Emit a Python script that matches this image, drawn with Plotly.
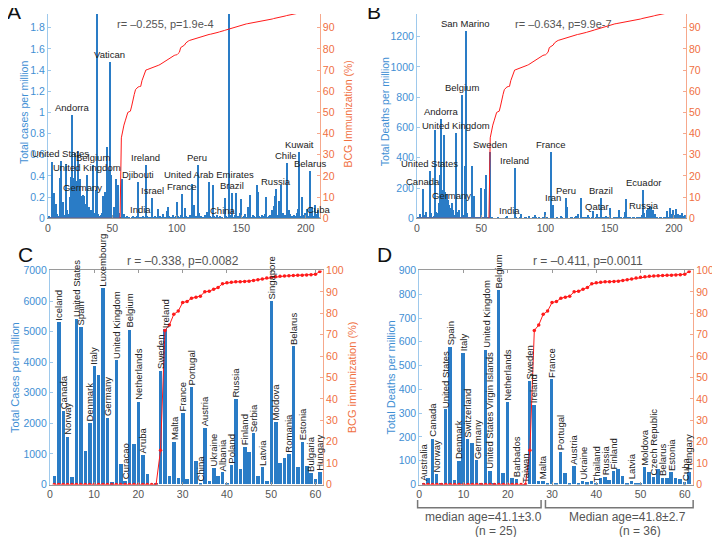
import plotly.graph_objects as go

W, H = 720, 537
FONT = "Liberation Sans"

# ---------------- Panels A / B : 210 countries sorted by BCG coverage ----------------
cases_ab = [
    0.02, 0.01, 0.53, 0.03, 0.24, 0.14, 0.04, 0.02, 0.38, 0.54,
    0.05, 0.15, 0.03, 0.51, 0.08, 0.04, 0.20, 0.39, 0.98, 0.385,
    0.62, 0.35, 0.64, 0.10, 0.37, 0.21, 0.217, 0.21, 0.14, 0.405,
    0.06, 0.11, 0.08, 0.03, 0.505, 0.05, 0.27, 2.30, 0.04, 0.02,
    0.03, 0.05, 0.21, 0.25, 0.02, 0.67, 0.46, 1.48, 0.41, 0.03,
    0.11, 0.02, 0.375, 0.31, 0.05, 0.01, 0.37, 0.02, 0.04, 0.01,
    0.02, 0.005, 0.01, 0.003, 0.01, 0.02, 0.005, 0.01, 0.02, 0.34,
    0.01, 0.01, 0.003, 0.02, 0.01, 0.506, 0.02, 0.01, 0.005, 0.01,
    0.19, 0.01, 0.02, 0.005, 0.09, 0.01, 0.02, 0.01, 0.04, 0.005,
    0.01, 0.07, 0.11, 0.02, 0.01, 0.005, 0.03, 0.01, 0.02, 0.15,
    0.02, 0.01, 0.03, 0.23, 0.01, 0.10, 0.02, 0.01, 0.005, 0.03,
    0.02, 0.32, 0.13, 0.01, 0.02, 0.50, 0.05, 0.01, 0.02, 0.005,
    0.01, 0.03, 0.06, 0.01, 0.345, 0.02, 0.01, 0.31, 0.02, 0.01,
    0.03, 0.01, 0.02, 0.005, 0.01, 0.003, 0.19, 0.02, 0.01, 2.30,
    0.03, 0.02, 0.24, 0.01, 0.03, 0.24, 0.02, 0.01, 0.05, 0.18,
    0.01, 0.02, 0.04, 0.01, 0.11, 0.02, 0.22, 0.01, 0.03, 0.02,
    0.01, 0.31, 0.25, 0.02, 0.01, 0.03, 0.02, 0.04, 0.20, 0.01,
    0.02, 0.03, 0.01, 0.08, 0.12, 0.21, 0.28, 0.03, 0.16, 0.02,
    0.31, 0.05, 0.01, 0.03, 0.52, 0.02, 0.08, 0.04, 0.02, 0.01,
    0.03, 0.02, 0.05, 0.09, 0.63, 0.02, 0.20, 0.03, 0.05, 0.02,
    0.09, 0.02, 0.45, 0.03, 0.11, 0.02, 0.13, 0.04, 0.08, 0.017,
]

deaths_ab = [
    5, 26, 8, 12, 194, 20, 41, 5, 10, 316,
    32, 8, 15, 581, 40, 38, 100, 284, 657, 187,
    549, 176, 161, 123, 90, 69, 100, 58, 20, 564,
    15, 45, 58, 10, 812, 22, 349, 1238, 37, 8,
    12, 5, 349, 145, 8, 5, 10, 4, 6, 198,
    3, 10, 192, 289, 5, 2, 435, 3, 1, 2,
    0, 1, 3, 0, 1, 2, 0, 1, 3, 15,
    1, 2, 0, 2, 1, 334, 3, 1, 0, 4,
    30, 2, 1, 5, 3, 1, 15, 2, 1, 5,
    10, 25, 8, 1, 3, 2, 1, 5, 2, 43,
    3, 1, 2, 440, 3, 90, 2, 1, 5, 2,
    1, 15, 3, 2, 1, 134, 75, 2, 1, 3,
    4, 2, 8, 15, 30, 2, 1, 134, 3, 4,
    12, 8, 20, 5, 2, 3, 47, 2, 5, 30,
    12, 3, 134, 2, 5, 12, 18, 5, 3, 69,
    2, 1, 4, 3, 2, 8, 54, 2, 3, 1,
    5, 40, 127, 3, 2, 5, 1, 3, 8, 2,
    4, 8, 3, 12, 25, 187, 33, 10, 58, 70,
    80, 75, 20, 52, 30, 5, 3, 2, 8, 12,
    2, 3, 5, 2, 47, 12, 69, 30, 58, 10,
    25, 62, 26, 8, 20, 35, 15, 12, 25, 7,
]

bcg_ab = [
    0, 0, 0, 0, 0, 0, 0, 0, 0, 0,
    0, 0, 0, 0, 0, 0, 0, 0, 0, 0,
    0, 0, 0, 0, 0, 0, 0, 0, 0, 0,
    0, 0, 0, 0, 0, 0, 0, 0, 0, 0,
    0, 0, 0, 0, 0, 0, 0, 0, 0, 0,
    0, 0, 0, 0, 0, 0, 38, 42, 44, 46,
    48.5, 50, 50.3, 50.6, 53, 56.5, 58.5, 60.8, 61.5, 62,
    62.2, 62.3, 65, 67, 68.5, 70, 70.2, 70.4, 70.6, 70.8,
    71, 71.2, 71.5, 71.8, 72, 72.3, 72.6, 73, 73.4, 73.8,
    74.1, 74.5, 75, 75.5, 76, 76.5, 76.7, 76.9, 77.1, 77.2,
    77.8, 78.4, 80.6, 81, 81.4, 81.8, 82.8, 83.4, 83.7, 84,
    84.2, 84.5, 84.7, 84.9, 85.1, 85.3, 85.4, 85.6, 85.7, 85.9,
    86.1, 86.3, 86.5, 86.6, 86.8, 86.9, 87, 87.2, 87.4, 87.5,
    87.7, 87.8, 88, 88.1, 88.3, 88.5, 88.7, 88.9, 89.1, 89.3,
    89.5, 89.7, 89.9, 90, 90.2, 90.4, 90.6, 90.8, 91, 91.2,
    91.4, 91.5, 91.7, 91.8, 91.9, 92, 92.1, 92.2, 92.3, 92.4,
    92.5, 92.6, 92.8, 92.9, 93.1, 93.2, 93.4, 93.5, 93.6, 93.7,
    93.8, 93.9, 94, 94.1, 94.3, 94.4, 94.6, 94.7, 94.8, 95,
    95.1, 95.2, 95.4, 95.5, 95.7, 95.8, 95.9, 96, 96.1, 96.2,
    96.3, 96.4, 96.5, 96.7, 96.9, 97, 97.2, 97.4, 97.6, 97.8,
    98, 98.1, 98.2, 98.4, 98.5, 98.6, 98.8, 99, 99, 99,
]

labels_a_idx = [10, 30, 35, 27, 19, 48, 70, 76, 72, 81, 125, 104, 116, 136, 143, 177, 185, 195, 203, 210]
labels_a_txt = ["United States", "United Kingdom", "Belgium", "Germany", "Andorra", "Vatican",
                "Djibouti", "Ireland", "India", "Israel", "United Arab Emirates", "France", "Peru",
                "China", "Brazil", "Russia", "Chile", "Kuwait", "Belarus", "Cuba"]

labels_b_idx = [38, 35, 19, 30, 57, 104, 76, 10, 5, 27, 116, 106, 143, 176, 72, 140, 177, 210]
labels_b_txt = ["San Marino", "Belgium", "Andorra", "United Kingdom", "Sweden", "France", "Ireland",
                "United States", "Canada", "Germany", "Peru", "Iran", "Brazil", "Ecuador", "India",
                "Qatar", "Russia", "Cuba"]

# ---------------- Panels C / D : 61 countries ----------------
cases_cd = [
    280, 5300, 2400, 1545, 230, 5410, 5130, 1075, 2000, 3855,
    3555, 6420, 2170, 60, 4050, 650, 115, 5050, 1320, 2700,
    940, 320, 0, 18, 3700, 5060, 270, 1385, 200, 2310,
    180, 3170, 760, 50, 1830, 115, 530, 255, 380, 40,
    630, 2770, 500, 1225, 1055, 1660, 270, 555, 95, 5975,
    2035, 690, 840, 990, 4505, 545, 1385, 605, 350, 170,
    385,
]

deaths_cd = [
    5, 26, 191, 42, 4, 314, 578, 18, 97, 550,
    190, 173, 100, 4, 565, 56, 4, 815, 46, 345,
    26, 23, 0, 0.3, 433, 333, 15, 15, 4, 440,
    1, 137, 45, 3, 75, 5, 15, 8, 12, 1,
    26, 31, 16, 57, 62, 36, 4, 12, 1, 4,
    72, 50, 31, 64, 26, 26, 50, 26, 20, 8,
    53,
]

bcg_cd = [
    0, 0, 0, 0, 0, 0, 0, 0, 0, 0,
    0, 0, 0, 0, 0, 0, 0, 0, 0, 0,
    0, 0, 0, 0, 16, 72, 74.5, 79.5, 81, 85,
    85.5, 87, 87.5, 88, 90, 90.3, 91.2, 92, 93.8, 94.2,
    94.5, 94.7, 94.7, 94.8, 94.9, 95.3, 95.7, 96, 96.5, 96.8,
    97.1, 97.3, 97.4, 97.5, 97.6, 97.7, 97.8, 97.9, 98, 98.2,
    99.5,
]

labels_c = ["", "Iceland", "Canada", "Norway", "", "United States", "Spain", "", "Denmark", "Italy",
            "", "Luxembourg", "Germany", "", "United Kingdom", "", "Curacao", "Belgium", "", "Netherlands",
            "Aruba", "", "", "", "Sweden", "Ireland", "", "Malta", "", "France",
            "", "Portugal", "", "China", "Austria", "", "Ukraine", "", "Albania", "",
            "Poland", "Russia", "", "Finland", "", "Serbia", "", "Latvia", "", "Singapore",
            "Moldova", "", "", "Romania", "Belarus", "", "Estonia", "", "Bulgaria", "",
            "Hungary"]

labels_d = ["Australia", "", "Canada", "Norway", "", "United States", "Spain", "", "Denmark", "Italy",
            "Switzerland", "", "Germany", "", "United Kingdom", "United States Virgin Islands", "", "Belgium", "", "Netherlands",
            "", "Barbados", "", "Taiwan", "Sweden", "Ireland", "", "Malta", "", "France",
            "", "Portugal", "", "", "Austria", "", "Ukraine", "", "", "Thailand",
            "", "Russia", "", "Finland", "", "", "", "Latvia", "", "",
            "Moldova", "", "Czech Republic", "", "Belarus", "", "Estonia", "", "", "Cuba",
            "Hungary"]

titles = ["r= \u20130.255, p=1.9e-4", "r= \u20130.634, p=9.9e-7",
          "r = \u20130.338, p=0.0082", "r = \u20130.411, p=0.0011"]
left_titles = ["Total cases per million", "Total Deaths per million",
               "Total Cases per million", "Total Deaths per million"]
right_titles = ["BCG Immunization (%)", "BCG immunization (%)",
                "BCG immunization (%)", "BCG immunization (%)"]

# ---------------- styling ----------------
BAR = "#2a7cc6"
RED = "#ff1a1a"
BLUE_TXT = "#3f8fd4"
BLUE_LINE = "#9ec9ec"
ORG_TXT = "#f0703f"
ORG_LINE = "#f6a88c"
GRAY_TXT = "#555555"
AX_GRAY = "#9a9a9a"


def px(x):
    return x / W


def py(y):
    return 1 - y / H


idx_ab = list(range(1, len(cases_ab) + 1))
idx_cd = list(range(1, len(cases_cd) + 1))

fig = go.Figure()

panels = [
    ("x", "y", "y2", cases_ab, bcg_ab, idx_ab, False),
    ("x2", "y3", "y4", deaths_ab, bcg_ab, idx_ab, False),
    ("x3", "y5", "y6", cases_cd, bcg_cd, idx_cd, True),
    ("x4", "y7", "y8", deaths_cd, bcg_cd, idx_cd, True),
]

for xa, yl, yr, vals, bcg, idx, mk in panels:
    fig.add_trace(go.Bar(x=idx, y=vals, xaxis=xa, yaxis=yl, width=0.8,
                         marker=dict(color=BAR, line=dict(width=0)), showlegend=False))
    fig.add_trace(go.Scatter(x=idx, y=bcg, xaxis=xa, yaxis=yr,
                             mode="lines+markers" if mk else "lines",
                             line=dict(color=RED, width=1),
                             marker=dict(color=RED, size=3.5),
                             showlegend=False))

geo = {
    "A": dict(x0=37, x1=310, y0=0, y1=209, xr=210.8, yl=1.929, yr=96.46, dl=0.2),
    "B": dict(x0=407.7, x1=677.7, y0=0, y1=209, xr=209.3, yl=1350, yr=96.46, dl=200),
    "C": dict(x0=39, x1=313.3, y0=262.3, y1=481.3, xr=61.7, yl=7000, yr=100, dl=1000),
    "D": dict(x0=410, x1=685, y0=262.3, y1=481.3, xr=61.9, yl=900, yr=100, dl=100),
}


def xaxis_cfg(g, anchor, dtick, mirror, fs):
    return dict(domain=[px(g["x0"]), px(g["x1"])], range=[0, g["xr"]], anchor=anchor,
                showgrid=False, zeroline=False, showline=True, linecolor=AX_GRAY, linewidth=1,
                mirror=mirror, ticks="inside", ticklen=3, tickcolor=AX_GRAY, dtick=dtick, tick0=0,
                tickfont=dict(family=FONT, size=fs, color=GRAY_TXT))


def yleft_cfg(g, anchor, fs, fmt):
    return dict(domain=[py(g["y1"]), py(g["y0"])], range=[0, g["yl"]], anchor=anchor,
                showgrid=False, zeroline=False, showline=True, linecolor=BLUE_LINE, linewidth=1,
                ticks="inside", ticklen=3, tickcolor=BLUE_LINE, dtick=g["dl"], tick0=0,
                tickformat=fmt, tickfont=dict(family=FONT, size=fs, color=BLUE_TXT))


def yright_cfg(g, anchor, over, fs):
    return dict(range=[0, g["yr"]], anchor=anchor, overlaying=over, side="right",
                showgrid=False, zeroline=False, showline=True, linecolor=ORG_LINE, linewidth=1,
                ticks="inside", ticklen=3, tickcolor=ORG_LINE, dtick=10, tick0=0,
                tickfont=dict(family=FONT, size=fs, color=ORG_TXT))


fig.update_layout(
    width=W, height=H, autosize=False,
    margin=dict(l=0, r=0, t=0, b=0),
    paper_bgcolor="white", plot_bgcolor="white",
    bargap=0,
    xaxis=xaxis_cfg(geo["A"], "y", 50, False, 10.5),
    yaxis=yleft_cfg(geo["A"], "x", 10.5, ""),
    yaxis2=yright_cfg(geo["A"], "x", "y", 10.5),
    xaxis2=xaxis_cfg(geo["B"], "y3", 50, False, 10.5),
    yaxis3=yleft_cfg(geo["B"], "x2", 10.5, "d"),
    yaxis4=yright_cfg(geo["B"], "x2", "y3", 10.5),
    xaxis3=xaxis_cfg(geo["C"], "y5", 10, "ticks", 10.5),
    yaxis5=yleft_cfg(geo["C"], "x3", 10.5, "d"),
    yaxis6=yright_cfg(geo["C"], "x3", "y5", 10.5),
    xaxis4=xaxis_cfg(geo["D"], "y7", 10, "ticks", 10.5),
    yaxis7=yleft_cfg(geo["D"], "x4", 10.5, "d"),
    yaxis8=yright_cfg(geo["D"], "x4", "y7", 10.5),
)

ann = []
for i, t in zip(labels_a_idx, labels_a_txt):
    ann.append(dict(x=i, y=cases_ab[i - 1], xref="x", yref="y", text=t, showarrow=False,
                    xanchor="center", yanchor="bottom", yshift=0,
                    font=dict(family=FONT, size=9.5, color="#222222")))
for i, t in zip(labels_b_idx, labels_b_txt):
    ann.append(dict(x=i, y=deaths_ab[i - 1], xref="x2", yref="y3", text=t, showarrow=False,
                    xanchor="center", yanchor="bottom", yshift=0,
                    font=dict(family=FONT, size=9.5, color="#222222")))
for i, t in enumerate(labels_c):
    if t:
        ann.append(dict(x=i + 1, y=cases_cd[i], xref="x3", yref="y5", text=t, showarrow=False,
                        textangle=-90, xanchor="center", yanchor="bottom", yshift=0,
                        font=dict(family=FONT, size=9.5, color="#222222")))
for i, t in enumerate(labels_d):
    if t:
        ann.append(dict(x=i + 1, y=deaths_cd[i], xref="x4", yref="y7", text=t, showarrow=False,
                        textangle=-90, xanchor="center", yanchor="bottom", yshift=0,
                        font=dict(family=FONT, size=9.5, color="#222222")))

title_pos = [("x", 91, 10, 11), ("x2", 114, 10, 11), ("x3", 30, 253, 12), ("x4", 38.2, 253, 12)]
for (xr, xv, yv, fs), t in zip(title_pos, titles):
    ann.append(dict(x=xv, y=py(yv), xref=xr, yref="paper", text=t, showarrow=False,
                    xanchor="center", yanchor="middle", font=dict(family=FONT, size=fs, color=GRAY_TXT)))

ltp = [(12.3, 101, 10.5), (375, 100, 10.5), (4.5, 371.8, 11), (381.7, 371.8, 11)]
rtp = [(338.3, 102, 10.5), (708.3, 108, 10.5), (343.3, 371.8, 11), (715, 371.8, 11)]
for (xv, yv, fs), t in zip(ltp, left_titles):
    ann.append(dict(x=px(xv), y=py(yv), xref="paper", yref="paper", text=t, showarrow=False,
                    textangle=-90, xanchor="center", yanchor="middle",
                    font=dict(family=FONT, size=fs, color=BLUE_TXT)))
for (xv, yv, fs), t in zip(rtp, right_titles):
    ann.append(dict(x=px(xv), y=py(yv), xref="paper", yref="paper", text=t, showarrow=False,
                    textangle=-90, xanchor="center", yanchor="middle",
                    font=dict(family=FONT, size=fs, color=ORG_TXT)))

# panel letters (A and B are cut by the top edge in the reference)
for t, xv, yv in [("A", 3, -3), ("B", 365, -3), ("C", 15, 245.5), ("D", 375, 245.5)]:
    ann.append(dict(x=px(xv), y=py(yv), xref="paper", yref="paper", text=t, showarrow=False,
                    xanchor="center", yanchor="middle", font=dict(family=FONT, size=21, color="#111111")))

for t, xv, yv in [("median age=41.1\u00b13.0", 474, 515), ("(n = 25)", 486.7, 529),
                  ("Median age=41.8\u00b12.7", 618.8, 515), ("(n = 36)", 631.5, 529)]:
    ann.append(dict(x=px(xv), y=py(yv), xref="paper", yref="paper", text=t, showarrow=False,
                    xanchor="center", yanchor="middle", font=dict(family=FONT, size=12, color=GRAY_TXT)))

fig.update_layout(annotations=ann)

shapes = []
for xa, xb in [(408.3, 532.3), (536.7, 685)]:
    path = "M {a},{t} L {a},{b} L {c},{b} L {c},{t}".format(
        a=px(xa), c=px(xb), t=py(497), b=py(505))
    shapes.append(dict(type="path", path=path, xref="paper", yref="paper",
                       line=dict(color="#777777", width=1.5)))
fig.update_layout(shapes=shapes)

fig.write_html("out.html")
